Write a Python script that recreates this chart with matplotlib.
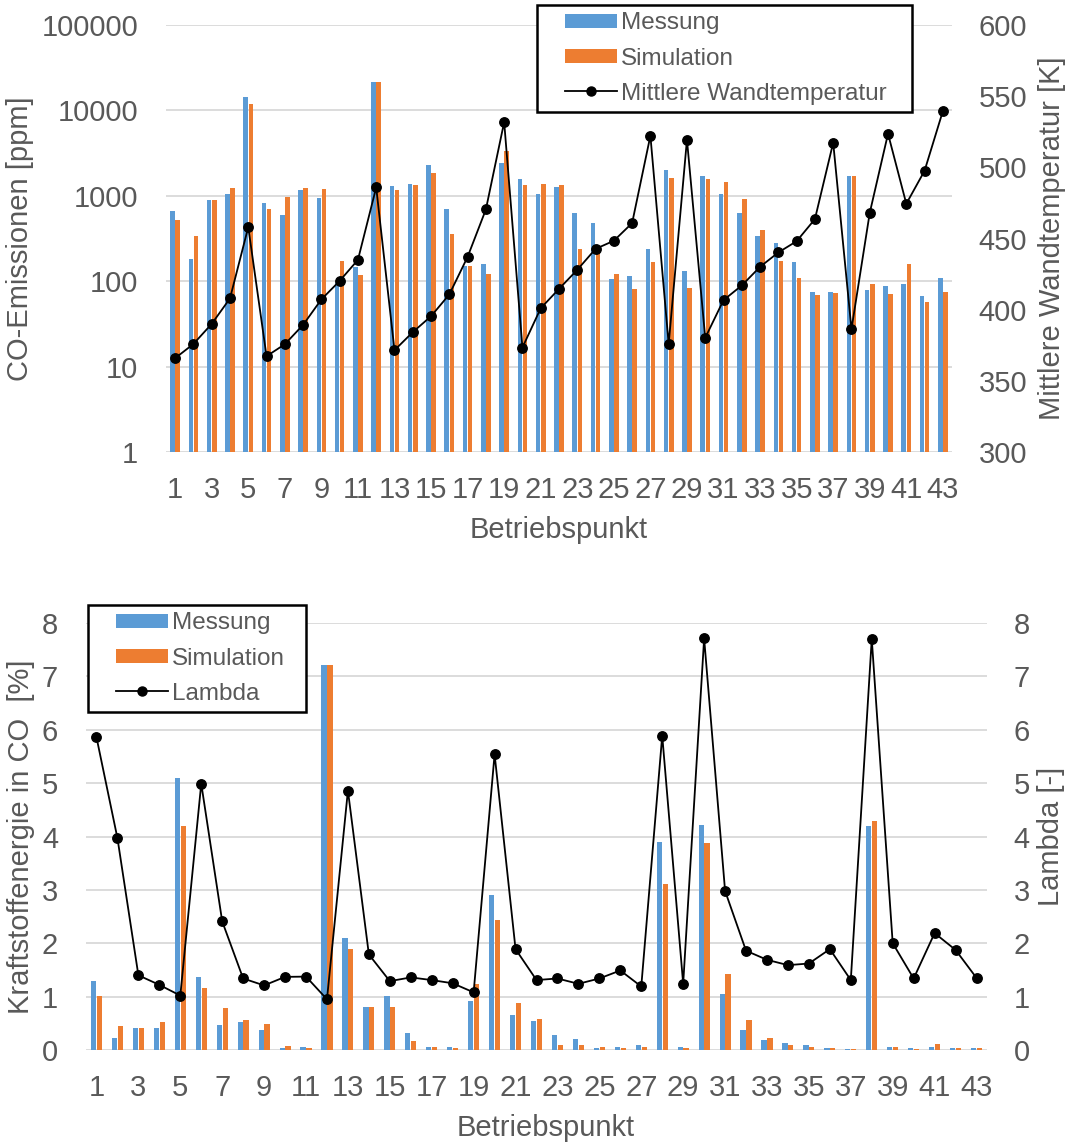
import matplotlib
matplotlib.use("Agg")
import matplotlib.pyplot as plt
import numpy as np
from matplotlib.legend_handler import HandlerBase
from matplotlib.lines import Line2D
from matplotlib.patches import Patch, Rectangle
from matplotlib.ticker import NullLocator

plt.rcParams['font.family'] = ['Liberation Sans', 'DejaVu Sans']

# operating points 1..43
betriebspunkt = list(range(1, 44))

# CO emissions [ppm], measured vs. simulated
co_messung = [667, 181, 891, 1047, 14230, 822, 589, 1177, 931, 94,
              146, 21500, 1311, 1361, 2310, 704, 149, 158, 2400, 1585,
              1047, 1265, 632, 483, 107, 115, 237, 2000, 131, 1687,
              1056, 622, 340, 277, 167, 75, 75, 1687, 79, 87,
              93, 67, 108]
co_simulation = [519, 337, 891, 1241, 11780, 699, 966, 1241, 1189, 172,
                 118, 21500, 1177, 1340, 1830, 356, 151, 121, 3314, 1336,
                 1383, 1336, 239, 231, 123, 80, 166, 1600, 84, 1556,
                 1436, 908, 396, 173, 109, 69, 72, 1717, 92, 71,
                 160, 57, 74]
# mean wall temperature [K]
wandtemperatur = [365.9, 375.9, 390.0, 407.9, 458.0, 367.3, 375.7, 389.3, 407.2, 420.2,
                  435.0, 485.9, 371.5, 384.2, 395.4, 410.7, 437.1, 470.4, 531.8, 373.4,
                  401.0, 414.6, 428.0, 442.7, 448.4, 460.8, 522.2, 375.9, 519.4, 380.2,
                  406.7, 417.0, 430.1, 440.2, 448.1, 463.6, 517.3, 386.3, 468.0, 523.6,
                  474.4, 497.6, 539.5]

# share of fuel energy ending up in CO [%]
energie_messung = [1.29, 0.23, 0.42, 0.42, 5.09, 1.36, 0.47, 0.53, 0.38, 0.04,
                   0.06, 7.21, 2.10, 0.81, 1.01, 0.32, 0.056, 0.056, 0.91, 2.91,
                   0.66, 0.55, 0.28, 0.20, 0.04, 0.056, 0.09, 3.89, 0.05, 4.21,
                   1.04, 0.38, 0.19, 0.14, 0.09, 0.04, 0.02, 4.20, 0.05, 0.03,
                   0.056, 0.04, 0.04]
energie_simulation = [1.01, 0.45, 0.42, 0.52, 4.19, 1.16, 0.78, 0.56, 0.49, 0.075,
                      0.045, 7.21, 1.89, 0.80, 0.80, 0.16, 0.056, 0.04, 1.24, 2.44,
                      0.875, 0.575, 0.10, 0.10, 0.05, 0.04, 0.06, 3.11, 0.03, 3.88,
                      1.43, 0.57, 0.225, 0.09, 0.056, 0.04, 0.02, 4.29, 0.05, 0.02,
                      0.11, 0.03, 0.04]
# air-fuel ratio
lambda_werte = [5.86, 3.97, 1.40, 1.22, 1.02, 4.99, 2.41, 1.34, 1.21, 1.37,
                1.375, 0.95, 4.86, 1.79, 1.29, 1.36, 1.31, 1.25, 1.08, 5.54,
                1.89, 1.31, 1.34, 1.24, 1.34, 1.49, 1.19, 5.89, 1.24, 7.71,
                2.98, 1.86, 1.69, 1.59, 1.62, 1.89, 1.31, 7.70, 2.00, 1.34,
                2.19, 1.875, 1.35]

BLUE = '#5B9BD5'
ORANGE = '#ED7D31'
GRID = '#D9D9D9'
TEXT = '#595959'
FS = 21
LEG_FS = 17.5
W = 1068
H = 1144


class RightHandle(HandlerBase):
    """Legend key drawn in the right part of the handle box, leaving a gap to the frame."""

    def __init__(self, shift):
        super().__init__()
        self.shift = shift

    def create_artists(self, legend, orig_handle, xdescent, ydescent, width, height, fontsize, trans):
        x0 = -xdescent + self.shift
        w = width - self.shift
        if isinstance(orig_handle, Patch):
            r = Rectangle((x0, -ydescent), w, height,
                          facecolor=orig_handle.get_facecolor(), edgecolor='none', transform=trans)
            return [r]
        y = -ydescent + height / 2
        ln = Line2D([x0, x0 + w], [y, y], color='black', lw=1.3, transform=trans)
        mk = Line2D([x0 + w / 2], [y], color='black', marker='o', ms=6.5, ls='none', transform=trans)
        return [ln, mk]


def px_rect(left, top, right, bottom):
    return [left / W, 1 - bottom / H, (right - left) / W, (bottom - top) / H]


def px_box(left, top, right, bottom):
    return (left / W, 1 - bottom / H, (right - left) / W, (bottom - top) / H)


def clean(ax):
    for s in ax.spines.values():
        s.set_visible(False)


def draw_panel(fig, rect, mess, sim, line, log):
    x = np.array(betriebspunkt)
    ax = fig.add_axes(rect)
    ax.bar(x - 0.14, mess, width=0.25, color=BLUE, log=log, zorder=2)
    ax.bar(x + 0.14, sim, width=0.25, color=ORANGE, log=log, zorder=2)
    ax.set_xlim(0.5, 43.5)
    ax.grid(axis='y', color=GRID, lw=1.3, zorder=0)
    ax.set_axisbelow(True)
    clean(ax)
    ax.set_xticks(x[::2])
    ax.set_xticklabels([str(v) for v in x[::2]])
    ax.tick_params(axis='x', length=0, pad=17, labelsize=FS, labelcolor=TEXT)
    ax.tick_params(axis='y', length=0, pad=20, labelsize=FS, labelcolor=TEXT)

    ax2 = ax.twinx()
    clean(ax2)
    ax2.plot(x, line, color='black', lw=1.3, marker='o', ms=6.8, zorder=3)
    ax2.tick_params(axis='y', length=0, pad=19, labelsize=FS, labelcolor=TEXT)
    return ax, ax2


def add_legend(fig, line_label, box):
    handles = [Patch(facecolor=BLUE), Patch(facecolor=ORANGE), Line2D([], [])]
    labels = ['Messung', 'Simulation', line_label]
    hm = {Patch: RightHandle(15), Line2D: RightHandle(15)}
    leg = fig.legend(handles, labels, loc='upper left', bbox_to_anchor=box, mode='expand',
                     frameon=True, fancybox=False, framealpha=1, edgecolor='black',
                     fontsize=LEG_FS, labelcolor=TEXT, handlelength=3.0, handleheight=0.5,
                     handletextpad=0.15, labelspacing=0.55, borderpad=0.3, borderaxespad=0,
                     handler_map=hm)
    leg.get_frame().set_linewidth(1.8)
    return leg


def main():
    fig = plt.figure(figsize=(W / 100, H / 100), dpi=100)

    # CO emissions with wall temperature
    ax, ax2 = draw_panel(fig, px_rect(166, 25, 952, 452),
                         co_messung, co_simulation, wandtemperatur, log=True)
    ax.set_ylim(1, 100000)
    ax.yaxis.set_minor_locator(NullLocator())
    dekaden = [1, 10, 100, 1000, 10000, 100000]
    ax.set_yticks(dekaden)
    ax.set_yticklabels([str(d) for d in dekaden])
    ax.set_ylabel('CO-Emissionen [ppm]', fontsize=FS, color=TEXT, va='center')
    ax.yaxis.set_label_coords((20 - 166) / 786, 0.5)
    ax.set_xlabel('Betriebspunkt', fontsize=FS, color=TEXT, va='center')
    ax.xaxis.set_label_coords(0.5, -0.182)
    ax2.set_ylim(300, 600)
    ax2.set_yticks(range(300, 601, 50))
    ax2.set_ylabel('Mittlere Wandtemperatur [K]', fontsize=FS, color=TEXT, va='center')
    ax2.yaxis.set_label_coords((1052 - 166) / 786, 0.5)
    add_legend(fig, 'Mittlere Wandtemperatur', px_box(537, 5, 912, 111))

    # fuel energy in CO with lambda
    bx, bx2 = draw_panel(fig, px_rect(86, 623, 987, 1050),
                         energie_messung, energie_simulation, lambda_werte, log=False)
    bx.set_ylim(0, 8)
    bx.set_yticks(range(0, 9))
    bx.set_ylabel('Kraftstoffenergie in CO  [%]', fontsize=FS, color=TEXT, va='center')
    bx.yaxis.set_label_coords((21 - 86) / 901, 0.5)
    bx.set_xlabel('Betriebspunkt', fontsize=FS, color=TEXT, va='center')
    bx.xaxis.set_label_coords((546 - 86) / 901, -0.182)
    bx2.set_ylim(0, 8)
    bx2.set_yticks(range(0, 9))
    bx2.set_ylabel('Lambda [-]', fontsize=FS, color=TEXT, va='center')
    bx2.yaxis.set_label_coords((1051 - 86) / 901, 0.5)
    add_legend(fig, 'Lambda', px_box(88, 605, 306, 712))

    fig.savefig('out.png', dpi=100, facecolor='white')
    plt.close(fig)


if __name__ == '__main__':
    main()
